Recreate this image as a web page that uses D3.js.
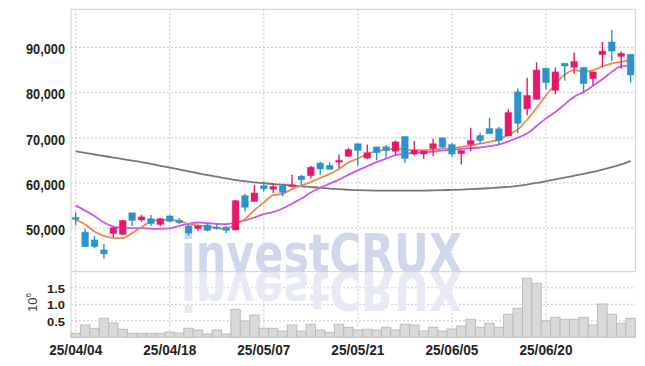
<!DOCTYPE html>
<html>
<head>
<meta charset="utf-8">
<script src="https://cdn.jsdelivr.net/npm/d3@7"></script>
<style>
  body { margin: 0; background: #fff; }
  svg { display: block; }
</style>
</head>
<body>
<svg width="645" height="366"></svg>
<script>
const dates = [
  "25/04/04", "25/04/07", "25/04/08", "25/04/09", "25/04/10", "25/04/11", "25/04/14", "25/04/15", "25/04/16", "25/04/17",
  "25/04/18", "25/04/21", "25/04/22", "25/04/23", "25/04/24", "25/04/25", "25/04/28", "25/04/29", "25/04/30", "25/05/02",
  "25/05/07", "25/05/08", "25/05/09", "25/05/12", "25/05/13", "25/05/14", "25/05/15", "25/05/16", "25/05/19", "25/05/20",
  "25/05/21", "25/05/22", "25/05/23", "25/05/26", "25/05/27", "25/05/28", "25/05/29", "25/05/30", "25/06/02", "25/06/04",
  "25/06/05", "25/06/09", "25/06/10", "25/06/11", "25/06/12", "25/06/13", "25/06/16", "25/06/17", "25/06/18", "25/06/19",
  "25/06/20", "25/06/23", "25/06/24", "25/06/25", "25/06/26", "25/06/27", "25/06/30", "25/07/01", "25/07/02", "25/07/03"
];
const open = [
  52400, 49100, 47400, 45200, 48800, 48600, 53400, 51800, 52100, 50800,
  52700, 51700, 50500, 49900, 50700, 50200, 50200, 49600, 57200, 55900,
  59400, 58600, 59400, 59200, 61500, 61600, 64400, 63900, 64600, 65900,
  68700, 65500, 68000, 68000, 67000, 70300, 66400, 66400, 67600, 70000,
  68500, 66500, 68500, 70500, 72100, 72000, 70400, 80200, 76400, 78500,
  85400, 80500, 86500, 85600, 85600, 83100, 88400, 91200, 88000, 88500
];
const high = [
  53500, 49800, 48300, 46500, 50100, 51800, 53400, 52900, 52900, 52300,
  52900, 52200, 50900, 50500, 51100, 50900, 50500, 56300, 57600, 59600,
  60400, 60000, 59600, 61800, 61800, 63800, 64700, 64600, 66300, 67800,
  68700, 68500, 68000, 68400, 69400, 70300, 69300, 67100, 69800, 70000,
  68900, 67200, 72200, 71100, 74400, 72400, 76300, 80900, 83300, 86700,
  85500, 85600, 86500, 88900, 85600, 84600, 91200, 93900, 89100, 88500
];
const low = [
  50700, 45800, 45500, 43300, 48000, 48400, 50500, 51400, 50500, 50500,
  51300, 50900, 48400, 49300, 49300, 49700, 48900, 49500, 53700, 55900,
  58100, 57800, 57000, 59000, 59500, 61000, 61800, 63000, 63300, 65800,
  63800, 65300, 65000, 65600, 66100, 64400, 66100, 65300, 65900, 67600,
  65800, 64100, 67000, 68700, 70900, 68500, 70400, 71000, 75000, 78400,
  80700, 79600, 82600, 84200, 79800, 81700, 85600, 87000, 85300, 82200
];
const close = [
  51900, 45900, 45900, 44300, 50100, 51700, 51700, 52500, 51000, 52100,
  51500, 51200, 48900, 50500, 49500, 49900, 49500, 56100, 54600, 57800,
  58700, 59200, 57900, 59600, 60700, 63500, 63100, 63000, 65000, 67400,
  67200, 66700, 66700, 67200, 69100, 65400, 67200, 67100, 68700, 67900,
  66400, 67200, 69400, 69400, 70900, 69400, 75600, 73200, 79400, 85000,
  82200, 84600, 85900, 86900, 82000, 84600, 89200, 89200, 88700, 83900
];
const ma5 = [
  51850, 50800, 49250, 48300, 47850, 47800, 48900, 50200, 51450, 51850,
  51850, 51600, 50950, 50650, 50350, 50050, 49800, 50900, 52000, 54000,
  55700, 57300, 57600, 58650, 59400, 60200, 61100, 62000, 63100, 64550,
  65400, 66450, 67000, 67400, 67550, 67400, 67250, 67250, 67400, 67550,
  67700, 68000, 68300, 68700, 69100, 69600, 70700, 71800, 74000, 76600,
  79400, 81800, 84000, 85000, 84600, 84900, 85800, 86500, 86800, 87200
];
const ma20 = [
  55000, 53900, 52700, 51250, 50350, 50050, 50000, 50000, 49900, 49850,
  49950, 50500, 50950, 51250, 51100, 50950, 50900, 51250, 51700, 52350,
  53100, 53550, 54350, 55400, 56550, 57900, 58950, 59850, 60750, 61800,
  62800, 63700, 64600, 65400, 66150, 66450, 66650, 66800, 66950, 67200,
  67400, 67550, 67700, 67850, 68150, 68500, 69200, 70000, 70950, 72600,
  74300, 75700, 77400, 79100, 80150, 81500, 82950, 84600, 85800, 85900
];
const maLong = [
  67000, 66650, 66300, 65970, 65630, 65300, 64950, 64620, 64200, 63800,
  63400, 63000, 62550, 62150, 61750, 61400, 61000, 60650, 60400, 60150,
  59950, 59750, 59600, 59400, 59250, 59100, 58950, 58750, 58620, 58500,
  58400, 58350, 58320, 58300, 58290, 58290, 58300, 58320, 58350, 58400,
  58470, 58540, 58620, 58720, 58850, 59000, 59150, 59350, 59650, 60000,
  60400, 60800, 61200, 61600, 62000, 62450, 62950, 63500, 64100, 64900
];
const volume = [
  121000, 373000, 273000, 576000, 433000, 242000, 121000, 121000, 121000, 121000,
  161000, 130000, 273000, 221000, 100000, 221000, 100000, 848000, 494000, 676000,
  273000, 273000, 191000, 373000, 191000, 394000, 221000, 150000, 394000, 303000,
  221000, 242000, 221000, 303000, 221000, 394000, 373000, 191000, 303000, 191000,
  252000, 343000, 545000, 303000, 424000, 303000, 697000, 879000, 1788000, 1636000,
  503000, 606000, 545000, 545000, 606000, 373000, 1009000, 697000, 424000, 576000
];
const priceTicks = [50000, 60000, 70000, 80000, 90000];
const volumeTicks = [500000, 1000000, 1500000];
const dateTicks = ["25/04/04", "25/04/18", "25/05/07", "25/05/21", "25/06/05", "25/06/20"];

const left = 71, right = 635.3;
const priceTop = 9.3, priceBottom = 271.7;
const volTop = 272.3, volBottom = 337.3;
const upColor = "#e5196b", downColor = "#2c93c9";
const gridColor = "#c6c6da";
const font = "'Liberation Sans', Arial, sans-serif";

const svg = d3.select("svg");

const x = d3.scaleBand().domain(dates).range([left, right]);
const cx = d => x(d) + x.bandwidth() / 2;
const y = d3.scaleLinear().domain([40356, 98444]).range([priceBottom, priceTop]);
const yv = d3.scaleLinear().domain([0, 1970000]).range([volBottom, volTop]);

// dotted grid
const grid = svg.append("g")
  .attr("stroke", gridColor)
  .attr("stroke-dasharray", "2,2");
grid.selectAll("line.h")
  .data(priceTicks)
  .join("line")
  .attr("x1", left).attr("x2", right)
  .attr("y1", d => y(d)).attr("y2", d => y(d));
grid.selectAll("line.v")
  .data(volumeTicks)
  .join("line")
  .attr("x1", left).attr("x2", right)
  .attr("y1", d => yv(d)).attr("y2", d => yv(d));
grid.selectAll("line.d")
  .data(dateTicks)
  .join("line")
  .attr("x1", cx).attr("x2", cx)
  .attr("y1", priceTop).attr("y2", volBottom);

// watermark, and its reflection below the price panel
const wm = svg.append("g")
  .style("font-family", "'DejaVu Sans', sans-serif")
  .style("font-weight", "bold")
  .style("font-size", "54px");
wm.append("text")
  .attr("x", 181).attr("y", priceBottom)
  .attr("textLength", 281).attr("lengthAdjust", "spacingAndGlyphs")
  .attr("fill", "#d0d7ea")
  .text("investCRUX");
wm.append("text")
  .attr("x", 181).attr("y", priceBottom)
  .attr("transform", `translate(0,${priceBottom * 2}) scale(1,-1)`)
  .attr("textLength", 281).attr("lengthAdjust", "spacingAndGlyphs")
  .attr("fill", "#e7eaf4")
  .text("investCRUX");

// frame
const frame = svg.append("g").attr("stroke", "#cfcfd6").attr("fill", "none");
frame.append("line").attr("x1", left).attr("x2", left).attr("y1", priceTop).attr("y2", volBottom);
frame.append("line").attr("x1", left).attr("x2", right).attr("y1", priceTop).attr("y2", priceTop);
frame.append("line").attr("x1", right).attr("x2", right).attr("y1", priceTop).attr("y2", priceBottom);
frame.append("line").attr("x1", left).attr("x2", right).attr("y1", priceBottom).attr("y2", priceBottom);

// volume bars
svg.append("g")
  .selectAll("rect")
  .data(dates)
  .join("rect")
  .attr("x", d => x(d))
  .attr("width", x.bandwidth())
  .attr("y", (d, i) => yv(volume[i]))
  .attr("height", (d, i) => yv(0) - yv(volume[i]))
  .attr("fill", "#d9d9d9")
  .attr("stroke", "#bcbcbc")
  .attr("stroke-width", 1);

// moving averages
const line = series => d3.line()
  .x((d, i) => cx(dates[i]))
  .y(d => y(d))
  .curve(d3.curveMonotoneX)(series);

[[maLong, "#777777"], [ma20, "#cc55ee"], [ma5, "#f08a4b"]].forEach(([s, c]) => {
  svg.append("path")
    .attr("d", line(s))
    .attr("fill", "none")
    .attr("stroke", c)
    .attr("stroke-width", 1.8);
});

// candles
const candles = svg.append("g")
  .selectAll("g")
  .data(dates)
  .join("g")
  .attr("fill", (d, i) => close[i] >= open[i] ? upColor : downColor)
  .attr("stroke", (d, i) => close[i] >= open[i] ? upColor : downColor);
candles.append("line")
  .attr("x1", cx).attr("x2", cx)
  .attr("y1", (d, i) => y(high[i]))
  .attr("y2", (d, i) => y(low[i]))
  .attr("stroke-width", 1.4);
const bodyW = x.bandwidth() * 0.72;
candles.append("rect")
  .attr("x", d => cx(d) - bodyW / 2)
  .attr("width", bodyW)
  .attr("y", (d, i) => y(Math.max(open[i], close[i])))
  .attr("height", (d, i) => Math.max(1.5, Math.abs(y(open[i]) - y(close[i]))))
  .attr("stroke-opacity", 0.35)
  .attr("stroke-width", 1);

// axes
const priceAxis = svg.append("g")
  .attr("transform", `translate(${left},0)`)
  .call(d3.axisLeft(y).tickValues(priceTicks).tickFormat(d3.format(",")).tickSize(0).tickPadding(6));
const volAxis = svg.append("g")
  .attr("transform", `translate(${left},0)`)
  .call(d3.axisLeft(yv).tickValues(volumeTicks).tickFormat(d => (d / 1e6).toFixed(1)).tickSize(0).tickPadding(6));
const dateAxis = svg.append("g")
  .attr("transform", `translate(0,${volBottom})`)
  .call(d3.axisBottom(x).tickValues(dateTicks).tickSize(0).tickPadding(7));

[priceAxis, volAxis, dateAxis].forEach(a => {
  a.select(".domain").remove();
  a.selectAll("text")
    .style("font-family", font)
    .style("font-weight", "bold")
    .attr("fill", "#222");
});
priceAxis.selectAll("text")
  .style("font-size", "15px")
  .attr("dy", "0.42em")
  .attr("textLength", 39).attr("lengthAdjust", "spacingAndGlyphs");
volAxis.selectAll("text")
  .style("font-size", "11px")
  .attr("dy", "0.4em")
  .attr("textLength", 18).attr("lengthAdjust", "spacingAndGlyphs");
dateAxis.selectAll("text")
  .style("font-size", "15px")
  .attr("dy", "0.71em")
  .attr("textLength", 53).attr("lengthAdjust", "spacingAndGlyphs");

// 10^6 unit label
const unit = svg.append("text")
  .attr("transform", "translate(37,312) rotate(-90)")
  .style("font-family", font)
  .attr("fill", "#444");
unit.append("tspan").style("font-size", "13px").text("10");
unit.append("tspan").style("font-size", "8px").attr("dy", -6).text("6");
</script>
</body>
</html>
